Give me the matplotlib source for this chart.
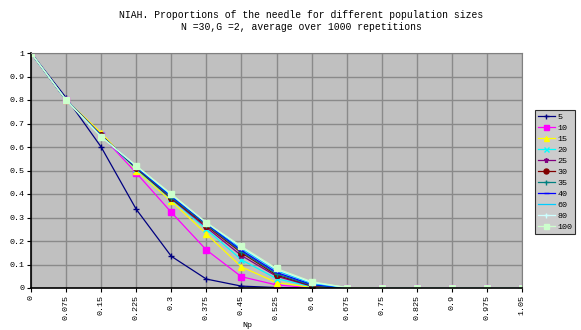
import matplotlib.pyplot as plt

# proportion of the needle found vs mutation rate Np, one curve per population size
np_labels = ['0', '0.075', '0.15', '0.225', '0.3', '0.375', '0.45', '0.525',
             '0.6', '0.675', '0.75', '0.825', '0.9', '0.975', '1.05']
pop_sizes = ['5', '10', '15', '20', '25', '30', '35', '40', '60', '80', '100']

p5 = [1, 0.81, 0.60, 0.335, 0.135, 0.038, 0.008, 0.002, 0, 0, 0, 0, 0, 0, 0]
p10 = [1, 0.80, 0.65, 0.49, 0.322, 0.162, 0.048, 0.013, 0.001, 0, 0, 0, 0, 0, 0]
p15 = [1, 0.80, 0.66, 0.50, 0.37, 0.23, 0.09, 0.023, 0.003, 0, 0, 0, 0, 0, 0]
p20 = [1, 0.80, 0.65, 0.505, 0.378, 0.25, 0.12, 0.04, 0.006, 0, 0, 0, 0, 0, 0]
p25 = [1, 0.80, 0.65, 0.51, 0.38, 0.258, 0.138, 0.05, 0.008, 0, 0, 0, 0, 0, 0]
p30 = [1, 0.80, 0.65, 0.51, 0.382, 0.265, 0.15, 0.055, 0.01, 0, 0, 0, 0, 0, 0]
p35 = [1, 0.80, 0.648, 0.513, 0.385, 0.27, 0.155, 0.06, 0.012, 0, 0, 0, 0, 0, 0]
p40 = [1, 0.80, 0.646, 0.515, 0.39, 0.274, 0.16, 0.066, 0.015, 0.001, 0, 0, 0, 0, 0]
p60 = [1, 0.80, 0.645, 0.518, 0.395, 0.277, 0.168, 0.074, 0.02, 0.001, 0, 0, 0, 0, 0]
p80 = [1, 0.80, 0.644, 0.52, 0.398, 0.278, 0.173, 0.079, 0.024, 0.002, 0, 0, 0, 0, 0]
p100 = [1, 0.80, 0.642, 0.52, 0.40, 0.278, 0.177, 0.083, 0.027, 0.002, 0, 0, 0, 0, 0]

series = [p5, p10, p15, p20, p25, p30, p35, p40, p60, p80, p100]
colors = ['#000080', '#ff00ff', '#ffff00', '#00ffff', '#800080', '#800000',
          '#008080', '#0000ff', '#00ccff', '#ccffff', '#ccffcc']
markers = ['+', 's', '^', 'x', '*', 'o', '+', '_', '', '+', 's']

plt.rcParams['font.family'] = ['Liberation Mono', 'DejaVu Sans Mono']

fig = plt.figure(figsize=(5.81, 3.30), dpi=100)
ax = fig.add_axes([31 / 581, 42 / 330, 491 / 581, 235 / 330])
ax.set_facecolor('#c0c0c0')

x = list(range(len(np_labels)))
for vals, name, c, m in zip(series, pop_sizes, colors, markers):
    ax.plot(x, vals, color=c, marker=m, markersize=4, linewidth=0.9,
            markeredgewidth=1, label=name)

ax.set_xlim(0, len(np_labels) - 1)
ax.set_ylim(0, 1)
ax.set_xticks(x)
ax.set_xticklabels(np_labels, rotation=90, fontsize=6)
ax.set_yticks([i / 10 for i in range(11)])
ax.set_yticklabels(['0', '0.1', '0.2', '0.3', '0.4', '0.5', '0.6', '0.7',
                    '0.8', '0.9', '1'], fontsize=6)
ax.tick_params(length=3, width=0.8, pad=2)
ax.grid(True, color='#8a8a8a', linewidth=1)
ax.set_axisbelow(True)
for s in ['top', 'right']:
    ax.spines[s].set_color('#808080')
for s in ['left', 'bottom']:
    ax.spines[s].set_color('black')
    ax.spines[s].set_linewidth(1.2)

fig.text(0.518, 0.955, 'NIAH. Proportions of the needle for different population sizes',
         ha='center', va='center', fontsize=7)
fig.text(0.518, 0.918, 'N =30,G =2, average over 1000 repetitions',
         ha='center', va='center', fontsize=7)
fig.text(247 / 581, 0.015, 'Np', ha='center', va='center', fontsize=6)

leg = ax.legend(loc='upper left', bbox_to_anchor=(535 / 581, 1 - 110 / 330),
                bbox_transform=fig.transFigure, fontsize=6, frameon=True,
                fancybox=False, shadow=False, handlelength=2.0, handletextpad=0.3,
                labelspacing=0.38, borderpad=0.35, borderaxespad=0, markerscale=0.9)
leg.get_frame().set_facecolor('#c0c0c0')
leg.get_frame().set_edgecolor('black')
leg.get_frame().set_linewidth(0.8)

fig.savefig('out.png', dpi=100)
